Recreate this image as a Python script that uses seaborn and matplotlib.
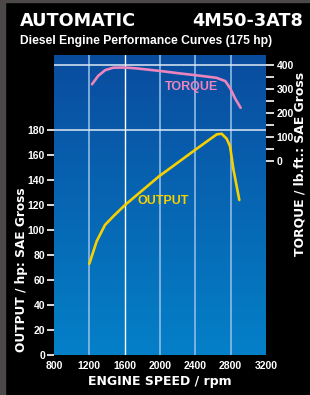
import numpy as np
import pandas as pd
import matplotlib
matplotlib.use("Agg")
import matplotlib.pyplot as plt
import seaborn as sns
from matplotlib.patches import Rectangle

# ---- data ----
torque_rpm = [1230, 1300, 1380, 1470, 1600, 1740, 1990, 2230, 2400, 2640, 2740, 2795, 2850, 2913]
torque_lbft = [320, 355, 379, 389, 390, 386, 376, 365, 358, 347, 333, 303, 261, 222]
output_rpm = [1200, 1283, 1377, 1472, 1604, 1990, 2396, 2642, 2698, 2755, 2793, 2830, 2898]
output_hp = [73, 91, 104, 111, 120, 143, 164, 176.5, 177, 173, 167, 149, 124]
x_ticks = [800, 1200, 1600, 2000, 2400, 2800, 3200]
hp_ticks = [0, 20, 40, 60, 80, 100, 120, 140, 160, 180]
tq_ticks = [0, 100, 200, 300, 400]
tq_minor = [50, 150, 250, 350]

sns.set_style("white")
plt.rcParams["font.family"] = ["Liberation Sans", "DejaVu Sans"]
plt.rcParams["font.weight"] = "bold"
WIDE = ["DejaVu Sans"]

fig = plt.figure(figsize=(3.10, 3.95), dpi=100, facecolor="black")
# gray frame edges
fig.patches.append(Rectangle((0, 0), 5/310, 1, transform=fig.transFigure, color="#4d4848", zorder=0))
fig.patches.append(Rectangle((0, 1-2/395), 1, 2/395, transform=fig.transFigure, color="#4d4848", zorder=0))

ax = fig.add_axes([54/310, 40/395, 212/310, 300/395])
ax.set_xlim(800, 3200)
ax.set_ylim(0, 240)

# gradient background
grad = np.linspace(0, 1, 256).reshape(-1, 1)
top = np.array([10, 76, 158]) / 255
bot = np.array([4, 128, 200]) / 255
img = top[None, None, :] * (1 - grad[:, :, None]) + bot[None, None, :] * grad[:, :, None]
ax.imshow(img, extent=[800, 3200, 0, 240], aspect="auto", origin="upper", zorder=0)

for x in [1200, 2000, 2400, 2800]:
    ax.axvline(x, color="#8fbbe6", lw=1.4, alpha=0.85, zorder=1)
ax.axvline(1600, color="white", lw=1.0, zorder=1)
ax.axhline(180, color="#dfe9f5", lw=1.1, zorder=1)

df_out = pd.DataFrame({"rpm": output_rpm, "hp": output_hp})
sns.lineplot(data=df_out, x="rpm", y="hp", ax=ax, color="#f7d000", lw=1.9, zorder=3,
             sort=False)

ax.set_xticks(x_ticks)
ax.set_xticklabels([str(v) for v in x_ticks])
ax.set_yticks(hp_ticks)
ax.tick_params(axis="x", length=0, pad=4, colors="white", labelsize=7.5)
ax.tick_params(axis="y", length=5, width=1.2, color="white", pad=1.5, colors="white", labelsize=7.5)
for s in ax.spines.values():
    s.set_visible(False)
ax.set_ylabel("")

ax2 = ax.twinx()
ax2.set_ylim(-808, 442)
ax2.axhline(400, color="#dfe9f5", lw=1.1, zorder=1)
df_tq = pd.DataFrame({"rpm": torque_rpm, "tq": torque_lbft})
sns.lineplot(data=df_tq, x="rpm", y="tq", ax=ax2, color="#ec85bd", lw=1.9, zorder=3, sort=False)
ax2.set_yticks(tq_ticks)
ax2.set_yticks(tq_minor, minor=True)
ax2.tick_params(axis="y", which="major", length=6, width=1.2, color="white", pad=1.5,
                colors="white", labelsize=7.5)
ax2.tick_params(axis="y", which="minor", length=6, width=1.2, color="white")
for s in ax2.spines.values():
    s.set_visible(False)
ax2.set_ylabel("")
ax2.set_xlabel("")
ax.set_xlabel("ENGINE SPEED / rpm", color="white", fontsize=9, fontweight="bold", labelpad=3,
              family=WIDE)

ax2.text(2357, 308, "TORQUE", color="#ec85bd", fontsize=9, fontweight="bold",
         ha="center", va="center")
ax.text(2034, 123.5, "OUTPUT", color="#f7d000", fontsize=9, fontweight="bold",
        ha="center", va="center")

fig.text(20/310, 1 - 21/395, "AUTOMATIC", color="white", fontsize=12.7, fontweight="bold",
         ha="left", va="center", family=WIDE)
fig.text(303/310, 1 - 21/395, "4M50-3AT8", color="white", fontsize=12.7, fontweight="bold",
         ha="right", va="center", family=WIDE)
fig.text(20/310, 1 - 41/395, "Diesel Engine Performance Curves (175 hp)", color="white",
         fontsize=8.7, fontweight="bold", ha="left", va="center")
fig.text(22/310, 1 - 270/395, "OUTPUT / hp: SAE Gross", color="white", fontsize=8.7,
         fontweight="bold", rotation=90, ha="center", va="center", family=WIDE)
fig.text(300/310, 1 - 164/395, "TORQUE / lb.ft.: SAE Gross", color="white", fontsize=8.9,
         fontweight="bold", rotation=90, ha="center", va="center", family=WIDE)

fig.savefig("out.png", dpi=100, facecolor="black")
